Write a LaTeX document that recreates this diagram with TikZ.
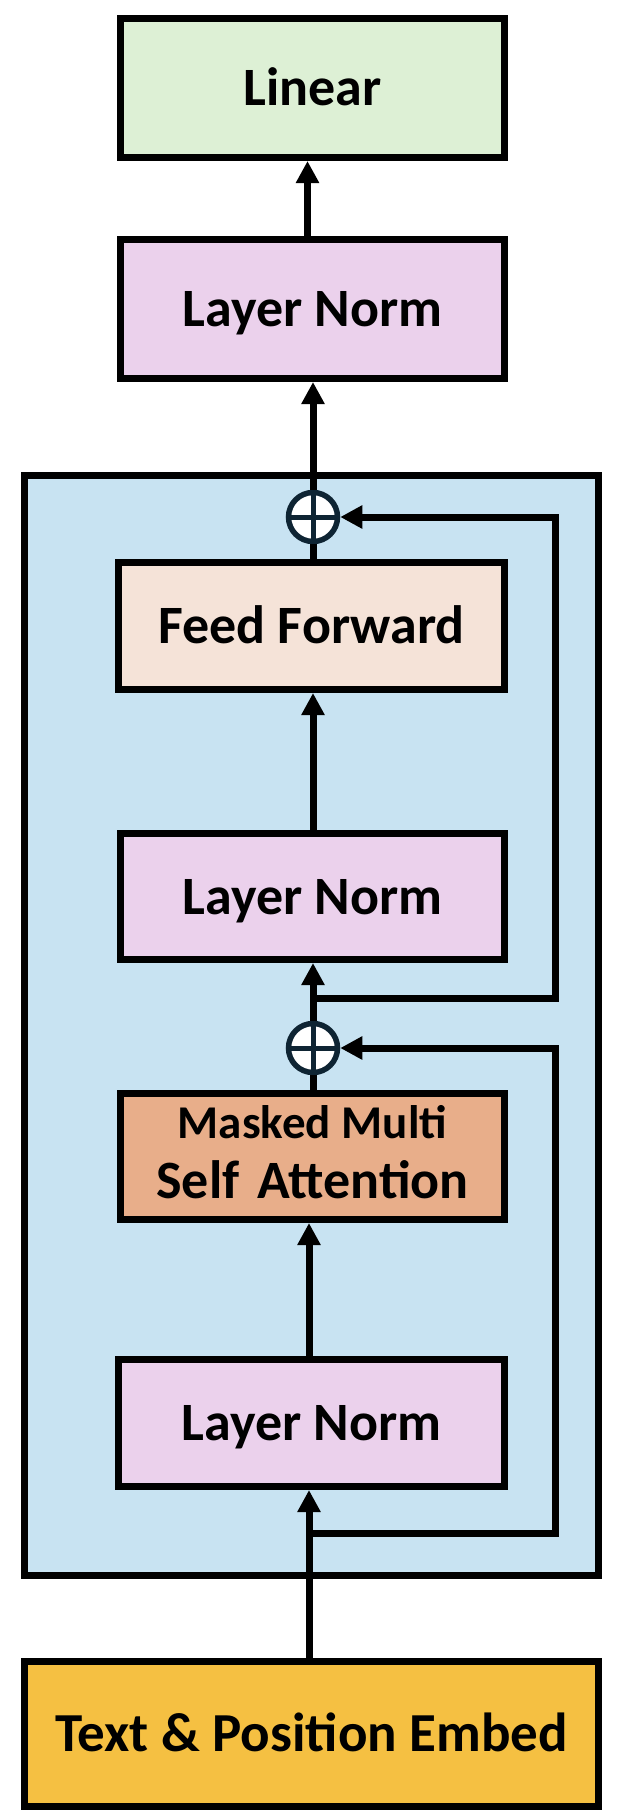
\documentclass[tikz,border=0pt]{standalone}
\usepackage{fontspec}
\setmainfont{Carlito}
\usetikzlibrary{arrows.meta}
\definecolor{cLinear}{HTML}{DDF0D5}
\definecolor{cNorm}{HTML}{EBD1EC}
\definecolor{cBlue}{HTML}{C8E3F2}
\definecolor{cFF}{HTML}{F5E3D8}
\definecolor{cAtt}{HTML}{E8AE8A}
\definecolor{cEmb}{HTML}{F5C042}
\definecolor{cNavy}{HTML}{0E2433}
\tikzset{
  blk/.style={draw=black, line width=7pt, rectangle, inner sep=0pt,
    font=\bfseries\fontsize{54}{60}\selectfont, text height=35pt, text depth=0pt},
  conn/.style={line width=7pt, draw=black, line join=miter},
  arr/.style={conn, -{Triangle[width=22pt,length=22pt]}},
  plusnode/.style={circle, draw=cNavy, line width=5.5pt, fill=white, minimum size=49pt, inner sep=0pt,
    path picture={\draw[cNavy, line width=5pt] (path picture bounding box.north) -- (path picture bounding box.south)
      (path picture bounding box.west) -- (path picture bounding box.east);}},
  lbl/.style={inner sep=0pt, font=\bfseries, text depth=0pt}
}
\begin{document}
\begin{tikzpicture}[x=1pt,y=-1pt]
\useasboundingbox (0,0) rectangle (624,1820);
% container
\draw[line width=7pt, fill=cBlue] (24.5,475.5) rectangle (598.5,1575.5);
% blocks
\node[blk, fill=cLinear, minimum width=384pt, minimum height=139pt] (linear) at (312.5,88) {Linear};
\node[blk, fill=cNorm, minimum width=384pt, minimum height=139pt] (lntop) at (312.5,309) {Layer Norm};
\node[blk, fill=cFF, minimum width=386pt, minimum height=127pt] (ff) at (311.5,626) {Feed Forward};
\node[blk, fill=cNorm, minimum width=384pt, minimum height=126pt] (lnmid) at (312.5,896.5) {Layer Norm};
\node[blk, fill=cAtt, minimum width=384pt, minimum height=126pt] (att) at (312.5,1156.5) {};
\node[lbl, font=\bfseries\fontsize{47}{50}\selectfont, text height=30pt] (attA) at (312.5,1123) {Masked Multi};
\node[lbl, font=\bfseries\fontsize{54}{58}\selectfont, text height=35pt] (attB) at (312.5,1181) {Self\,\,Attention};
\node[blk, fill=cNorm, minimum width=386pt, minimum height=127pt] (lnbot) at (311.5,1423) {Layer Norm};
\node[blk, fill=cEmb, minimum width=574pt, minimum height=145pt, font=\bfseries\fontsize{55}{60}\selectfont] (emb) at (311.5,1734) {Text \& Position Embed};
% adders
\node[plusnode] (plus1) at (313,517) {};
\node[plusnode] (plus2) at (313,1048) {};
% branch coordinates
\coordinate (b1) at (313,998);
\coordinate (c1) at (555,998);
\coordinate (d1) at (555,517);
\coordinate (b2) at (309,1533);
\coordinate (c2) at (555,1533);
\coordinate (d2) at (555,1048);
% connectors
\draw[arr] ([xshift=-5pt]lntop.north) -- ([xshift=-5pt]linear.south);
\draw[arr] (plus1.north) -- (plus1.north |- lntop.south);
\draw[conn] (ff.north -| plus1) -- (plus1.south);
\draw[arr] (lnmid.north -| plus1) -- (ff.south -| plus1);
\draw[arr] (plus2.north) -- (plus2.north |- lnmid.south);
\draw[conn] (att.north -| plus2) -- (plus2.south);
\draw[arr] (lnbot.north -| b2) -- (att.south -| b2);
\draw[arr] (emb.north -| b2) -- (lnbot.south -| b2);
\draw[arr] (b1) -- (c1) -- (d1) -- (plus1.east);
\draw[arr] (b2) -- (c2) -- (d2) -- (plus2.east);
\end{tikzpicture}
\end{document}
